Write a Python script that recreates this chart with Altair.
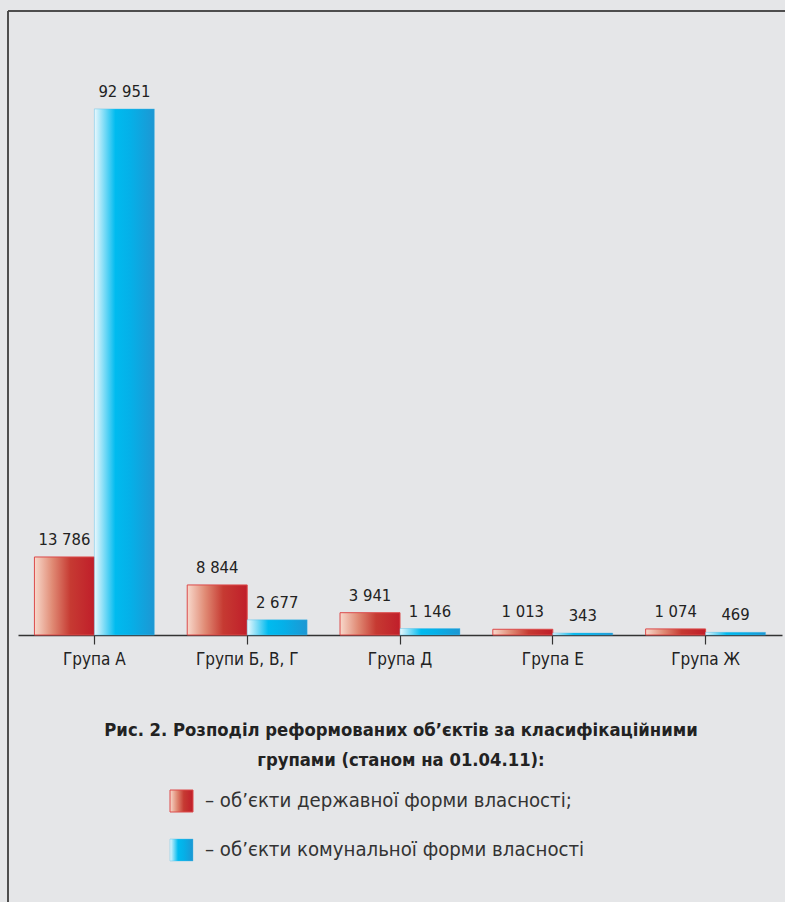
import altair as alt
import pandas as pd

groups = ["Група А", "Групи Б, В, Г", "Група Д", "Група Е", "Група Ж"]
state_vals = [13786, 8844, 3941, 1013, 1074]
communal_vals = [92951, 2677, 1146, 343, 469]
series_keys = ["state", "communal"]
legend_texts = ["– об’єкти державної форми власності;", "– об’єкти комунальної форми власності"]
caption_lines = ["Рис. 2. Розподіл реформованих об’єктів за класифікаційними", "групами (станом на 01.04.11):"]

FONT = "Liberation Sans Narrow, Arial Narrow, DejaVu Sans Condensed, sans-serif"
BG = "#e5e6e8"

rows = []
for g, s, c in zip(groups, state_vals, communal_vals):
    rows.append({"group": g, "series": "state", "value": s})
    rows.append({"group": g, "series": "communal", "value": c})
df = pd.DataFrame(rows)
df["label"] = df["value"].map(lambda v: f"{v:,}".replace(",", " "))

red_grad = alt.LinearGradient(
    gradient="linear", x1=0, x2=1, y1=0, y2=0,
    stops=[alt.GradientStop(offset=0, color="#f8d9cc"),
           alt.GradientStop(offset=0.3, color="#e08a74"),
           alt.GradientStop(offset=0.6, color="#c63a32"),
           alt.GradientStop(offset=1, color="#c01e2a")])
blue_grad = alt.LinearGradient(
    gradient="linear", x1=0, x2=1, y1=0, y2=0,
    stops=[alt.GradientStop(offset=0, color="#eaf8fd"),
           alt.GradientStop(offset=0.35, color="#00bbef"),
           alt.GradientStop(offset=0.6, color="#05b0e8"),
           alt.GradientStop(offset=1, color="#1d97d3")])

W, H = 764, 566
base = alt.Chart(df)
x_enc = alt.X("group:N", sort=groups,
              scale=alt.Scale(paddingInner=0.215, paddingOuter=0.1075),
              axis=alt.Axis(title=None, labelAngle=0, labelFont=FONT, labelFontSize=17,
                            labelColor="#222", labelPadding=7, domainColor="#333",
                            domainWidth=1.5, tickColor="#333", tickWidth=1.2, tickSize=9,
                            grid=False))
xo_enc = alt.XOffset("series:N", scale=alt.Scale(domain=series_keys, paddingInner=0, paddingOuter=0))
y_enc = alt.Y("value:Q", scale=alt.Scale(domain=[0, 100000]), axis=None)

red_bars = base.transform_filter(alt.datum.series == "state").mark_bar(
    fill=red_grad, stroke="#dc4a4a", strokeWidth=1).encode(x=x_enc, xOffset=xo_enc, y=y_enc)
blue_bars = base.transform_filter(alt.datum.series == "communal").mark_bar(
    fill=blue_grad, stroke="#4dbbe8", strokeWidth=0.4).encode(x=x_enc, xOffset=xo_enc, y=y_enc)
labels = base.mark_text(font=FONT, fontSize=16.5, color="#222", baseline="alphabetic", dy=-12).encode(
    x=x_enc, xOffset=xo_enc, y=y_enc, text="label:N")

cap_df = pd.DataFrame({"text": caption_lines, "i": [0, 1]})
cap1 = alt.Chart(cap_df).transform_filter(alt.datum.i == 0).mark_text(
    font=FONT, fontSize=18.3, fontWeight="bold", color="#222", baseline="middle", align="center").encode(
    x=alt.value(383), y=alt.value(662), text="text:N")
cap2 = alt.Chart(cap_df).transform_filter(alt.datum.i == 1).mark_text(
    font=FONT, fontSize=18.3, fontWeight="bold", color="#222", baseline="middle", align="center").encode(
    x=alt.value(383), y=alt.value(692), text="text:N")

leg_df = pd.DataFrame({"text": legend_texts, "series": series_keys})
leg_red = alt.Chart(leg_df).transform_filter(alt.datum.series == "state").mark_rect(
    fill=red_grad, stroke="#dc4a4a", strokeWidth=1).encode(
    x=alt.value(152), x2=alt.value(175), y=alt.value(721), y2=alt.value(743))
leg_blue = alt.Chart(leg_df).transform_filter(alt.datum.series == "communal").mark_rect(
    fill=blue_grad, stroke="#4dbbe8", strokeWidth=0.4).encode(
    x=alt.value(152), x2=alt.value(175), y=alt.value(770), y2=alt.value(792))
leg_t1 = alt.Chart(leg_df).transform_filter(alt.datum.series == "state").mark_text(
    font=FONT, fontSize=20.2, color="#333", align="left", baseline="middle").encode(
    x=alt.value(187), y=alt.value(732), text="text:N")
leg_t2 = alt.Chart(leg_df).transform_filter(alt.datum.series == "communal").mark_text(
    font=FONT, fontSize=20.2, color="#333", align="left", baseline="middle").encode(
    x=alt.value(187), y=alt.value(781), text="text:N")

frame_left = alt.Chart(leg_df).mark_rule(color="#444", strokeWidth=1.5).encode(
    x=alt.value(-10), y=alt.value(-58), y2=alt.value(900))
frame_top = alt.Chart(leg_df).mark_rule(color="#444", strokeWidth=1.5).encode(
    x=alt.value(-10), x2=alt.value(800), y=alt.value(-58))

chart = alt.layer(frame_left, frame_top, red_bars, blue_bars, labels, cap1, cap2,
                  leg_red, leg_blue, leg_t1, leg_t2).properties(
    width=W, height=H, background=BG,
    autosize=alt.AutoSizeParams(type="none"),
    padding={"left": 18, "top": 69, "right": 3, "bottom": 267},
).configure_view(strokeWidth=0)

chart.save("out.html", embed_options={"renderer": "svg", "actions": False})
